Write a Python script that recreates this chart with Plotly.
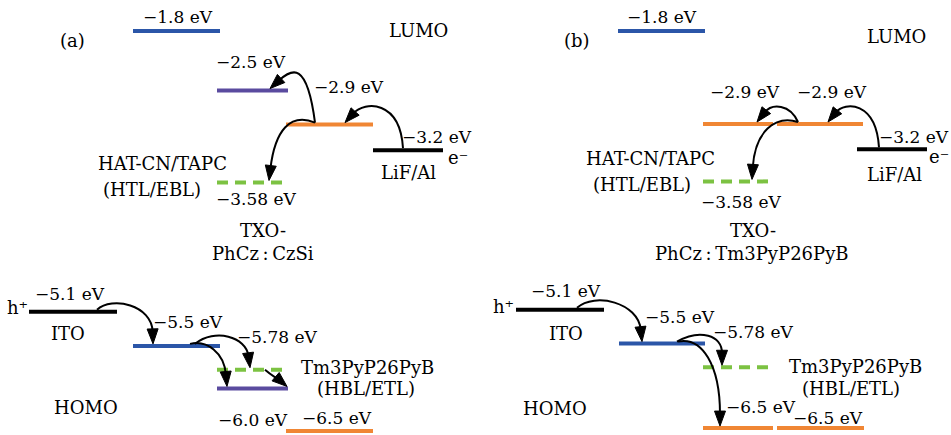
import math
import plotly.graph_objects as go

W, H = 951, 435

# ---------------- data ----------------
# energy levels (eV) of each panel, in drawing order
energy_a = [-1.8, -2.5, -2.9, -3.2, -3.58, -5.1, -5.5, -5.78, -6.0, -6.5]
energy_b = [-1.8, -2.9, -2.9, -3.2, -3.58, -5.1, -5.5, -5.78, -6.5, -6.5]
# material of each level
material_a = ["TXO-PhCz", "CzSi", "Tm3PyP26PyB", "LiF/Al", "HAT-CN/TAPC",
              "ITO", "TXO-PhCz", "HAT-CN/TAPC", "CzSi", "Tm3PyP26PyB"]
material_b = ["TXO-PhCz", "Tm3PyP26PyB", "Tm3PyP26PyB", "LiF/Al", "HAT-CN/TAPC",
              "ITO", "TXO-PhCz", "HAT-CN/TAPC", "Tm3PyP26PyB", "Tm3PyP26PyB"]
# text labels
panel_tags = ["(a)", "(b)"]
host_a = ["TXO-", "PhCz\u2009:\u2009CzSi"]
host_b = ["TXO-", "PhCz\u2009:\u2009Tm3PyP26PyB"]
side_labels = ["LUMO", "HOMO", "HAT-CN/TAPC", "(HTL/EBL)", "h\u207a", "ITO",
               "e\u207b", "LiF/Al", "Tm3PyP26PyB", "(HBL/ETL)"]

# ---------------- styles / layout ----------------
FONT = "DejaVu Serif"
COL = {"TXO-PhCz": "#2b56a8", "CzSi": "#5a4b9f", "Tm3PyP26PyB": "#f08634",
       "LiF/Al": "#000000", "ITO": "#000000", "HAT-CN/TAPC": "#7cc242"}
DASHED = {"HAT-CN/TAPC"}
VAL_SIZE, LAB_SIZE = 17, 18

# y-axis ranges (energy) for each panel -> vertical scale of the schematic
YR_A = [-6.547, -1.436]
YR_B = [-6.582, -1.4325]

# horizontal extents of level bars (px)
xspan_a = [(133, 220), (217, 288), (286, 373), (373, 443), (217, 283),
           (29, 117), (133, 220), (217, 283), (217, 288), (286, 373)]
xspan_b = [(618, 705), (703, 773), (777, 863), (857, 927), (703, 768),
           (516, 604), (619, 705), (703, 768), (703, 773), (777, 864)]

# positions of the energy value labels (px)
vpos_a = [(178, 17), (251, 62), (349, 87), (437, 137), (256, 199),
          (70, 294), (188, 322), (277, 337), (253, 420), (337, 418)]
vpos_b = [(662, 17), (745, 92), (832, 92), (914, 137), (741, 202),
          (566, 291), (680, 317), (753, 332), (761, 407), (828, 418)]

# side label positions (px), same order as side_labels
spos_a = [(418, 31), (86, 407), (162, 163), (152, 189), (17, 307), (68, 333),
          (458, 157), (408, 172), (367, 367), (366, 388)]
spos_b = [(896, 37), (555, 408), (650, 158), (642, 184), (503, 306), (566, 333),
          (939, 156), (894, 174), (855, 366), (851, 388)]
tag_pos = [(72, 40), (577, 40)]
host_pos_a = [(263, 231), (263, 253)]
host_pos_b = [(753, 231), (752, 253)]

# arrows: (from level, x on it, to level, x on it, ctrl1 offset from start, ctrl2 offset from end)
arrows_a = [
    (2, 315, 1, 270, (-8, -62), (22, -20)),
    (3, 403, 2, 345, (-3, -48), (20, -22)),
    (2, 315, 4, 269, (-25, -10), (6, -50)),
    (5, 97, 6, 153, (15, -14), (-1, -39)),
    (6, 190, 8, 227, (17, -4), (-3, -34)),
    (6, 195, 7, 250, (20, -16), (-4, -31)),
    (7, 265, 8, 287, (7, 6), (-7, -6)),
]
arrows_b = [
    (2, 798, 1, 757, (-8, -18), (15, -19)),
    (3, 879, 2, 828, (-3, -46), (17, -21)),
    (2, 798, 4, 752, (-23, -7), (3, -48)),
    (5, 577, 6, 642, (18, -16), (-4, -39)),
    (6, 677, 7, 722, (23, -13), (0, -30)),
    (6, 678, 8, 720, (24, -5), (0, -61)),
]


def py_of(e, yr):
    return (yr[1] - e) / (yr[1] - yr[0]) * H


def e_of(py, yr):
    return yr[1] - py / H * (yr[1] - yr[0])


fig = go.Figure()

# level bars
for energies, mats, spans, yref in ((energy_a, material_a, xspan_a, "y"),
                                    (energy_b, material_b, xspan_b, "y2")):
    for e, m, (x0, x1) in zip(energies, mats, spans):
        fig.add_trace(go.Scatter(
            x=[x0, x1], y=[e, e], mode="lines", yaxis=yref, hoverinfo="skip",
            line=dict(color=COL[m], width=4,
                      dash="11px,7px" if m in DASHED else "solid")))

# curved arrows
shapes = []
for energies, arrows, yr, yref in ((energy_a, arrows_a, YR_A, "y"),
                                   (energy_b, arrows_b, YR_B, "y2")):
    for (i0, x0, i1, x1, c1, c2) in arrows:
        sx, sy = x0, py_of(energies[i0], yr) - (0 if i0 in (4, 7) else 2)
        ex, ey = x1, py_of(energies[i1], yr) - 2
        p1 = (sx + c1[0], sy + c1[1])
        p2 = (ex + c2[0], ey + c2[1])
        dx, dy = ex - p2[0], ey - p2[1]
        n = math.hypot(dx, dy)
        dx, dy = dx / n, dy / n
        L, w = 15, 5.5
        bx, by = ex - L * dx, ey - L * dy
        lx, ly = ex - (L - 3) * dx, ey - (L - 3) * dy

        def pt(x, y):
            return f"{x:.2f},{e_of(y, yr):.5f}"
        path = (f"M {pt(sx, sy)} C {pt(*p1)} {pt(*p2)} {pt(lx, ly)}")
        shapes.append(dict(type="path", path=path, xref="x", yref=yref,
                           line=dict(color="black", width=2)))
        head = (f"M {pt(ex, ey)} L {pt(bx - w * dy, by + w * dx)} "
                f"L {pt(bx + w * dy, by - w * dx)} Z")
        shapes.append(dict(type="path", path=head, xref="x", yref=yref,
                           fillcolor="black", line=dict(color="black", width=1)))

# text
ann = []


def add_text(t, x, y, size):
    ann.append(dict(text=t, x=x / W, y=1 - y / H, xref="paper", yref="paper",
                    xanchor="center", yanchor="middle", showarrow=False,
                    font=dict(family=FONT, size=size, color="black")))


for energies, vpos in ((energy_a, vpos_a), (energy_b, vpos_b)):
    for e, (x, y) in zip(energies, vpos):
        add_text(f"\u2212{abs(e)} eV", x, y, VAL_SIZE)

for spos in (spos_a, spos_b):
    for t, (x, y) in zip(side_labels, spos):
        add_text(t, x, y, LAB_SIZE)

for t, (x, y) in zip(panel_tags, tag_pos):
    add_text(t, x, y, LAB_SIZE)
for t, (x, y) in zip(host_a, host_pos_a):
    add_text(t, x, y, LAB_SIZE)
for t, (x, y) in zip(host_b, host_pos_b):
    add_text(t, x, y, LAB_SIZE)

axis_off = dict(showgrid=False, zeroline=False, showticklabels=False,
                showline=False, ticks="", fixedrange=True)
fig.update_layout(
    width=W, height=H, margin=dict(l=0, r=0, t=0, b=0),
    paper_bgcolor="white", plot_bgcolor="white", showlegend=False,
    xaxis=dict(range=[0, W], domain=[0, 1], **axis_off),
    yaxis=dict(range=YR_A, domain=[0, 1], **axis_off),
    yaxis2=dict(range=YR_B, domain=[0, 1], overlaying="y", **axis_off),
    shapes=shapes, annotations=ann,
)

fig.write_html("out.html")
